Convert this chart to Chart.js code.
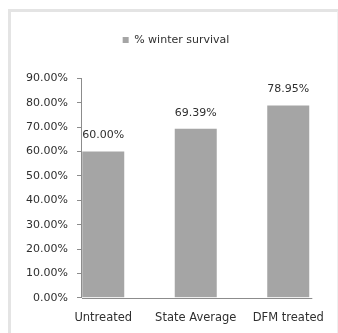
<!DOCTYPE html>
<html>
<head>
<meta charset="utf-8">
<script src="https://cdn.jsdelivr.net/npm/chart.js@4/dist/chart.umd.min.js"></script>
<style>
  html, body { margin: 0; padding: 0; background: #fff; overflow: hidden; }
  #wrap { position: relative; width: 338px; height: 333px; }
  #frame {
    position: absolute; left: 8px; top: 9px; width: 331px; height: 360px;
    border: 3px solid #e4e4e4; border-right: 2px solid #efefef; box-sizing: border-box;
  }
  canvas { position: absolute; left: 0; top: 0; }
</style>
</head>
<body>
<div id="wrap">
  <div id="frame"></div>
  <canvas id="survivalChart" width="338" height="333"></canvas>
</div>
<script>
// categories and winter survival rates (percent)
const groups = ['Untreated', 'State Average', 'DFM treated'];
const survival = [60.00, 69.39, 78.95];
const seriesName = '% winter survival';
const yTicks = [0, 10, 20, 30, 40, 50, 60, 70, 80, 90];

const textColor = '#2f2f2f';
const axisColor = '#8c8c8c';
const fontFamily = '"DejaVu Sans", sans-serif';

// value labels above each bar
const valueLabels = {
    id: 'valueLabels',
    afterDatasetsDraw(chart) {
        const ctx = chart.ctx;
        const meta = chart.getDatasetMeta(0);
        ctx.save();
        ctx.font = '11px ' + fontFamily;
        ctx.fillStyle = textColor;
        ctx.textAlign = 'center';
        ctx.textBaseline = 'middle';
        meta.data.forEach((bar, i) => {
            const v = chart.data.datasets[0].data[i];
            ctx.fillText(v.toFixed(2) + '%', bar.x, bar.y - 16);
        });
        ctx.restore();
    }
};

// horizontal axis line starting at the vertical axis
const baseLine = {
    id: 'baseLine',
    afterDatasetsDraw(chart) {
        const x = chart.scales.x;
        const y = chart.scales.y;
        const yPos = Math.round(y.getPixelForValue(0)) + 0.5;
        const ctx = chart.ctx;
        ctx.save();
        ctx.strokeStyle = axisColor;
        ctx.lineWidth = 1;
        ctx.beginPath();
        ctx.moveTo(x.getPixelForValue(-0.23), yPos);
        ctx.lineTo(x.getPixelForValue(2.26), yPos);
        ctx.stroke();
        ctx.restore();
    }
};

const setTicks = scale => { scale.ticks = yTicks.map(v => ({ value: v })); };

new Chart(document.getElementById('survivalChart'), {
    type: 'bar',
    data: {
        labels: groups,
        datasets: [{
            label: seriesName,
            data: survival,
            yAxisID: 'y',
            backgroundColor: '#a5a5a5',
            borderWidth: 0,
            categoryPercentage: 1,
            barPercentage: 0.454
        }]
    },
    options: {
        responsive: false,
        animation: false,
        layout: { padding: { left: 17.5, right: 3.5, top: 24.5, bottom: 8.2 } },
        plugins: {
            legend: {
                weight: 3000,
                labels: {
                    boxWidth: 6,
                    boxHeight: 6,
                    padding: 10,
                    color: textColor,
                    font: { family: fontFamily, size: 11 }
                }
            },
            // empty title used as spacing under the legend
            title: {
                display: true,
                text: '',
                padding: 0,
                font: { size: 23, lineHeight: 1 }
            },
            tooltip: { enabled: false }
        },
        scales: {
            gutter: {
                axis: 'y',
                position: 'left',
                display: true,
                grid: { display: false, drawTicks: false },
                border: { display: false },
                ticks: { display: false },
                afterFit(scale) { scale.width = 39.5; }
            },
            x: {
                grid: { display: false, drawTicks: false },
                border: { display: false },
                ticks: {
                    padding: 13,
                    color: textColor,
                    font: { family: fontFamily, size: 11.5 }
                },
                afterFit(scale) { scale.height = 27; }
            },
            // value axis: line and tick marks
            y: {
                position: { x: -0.23 },
                min: 0,
                max: 90,
                afterBuildTicks: setTicks,
                grid: { drawOnChartArea: false, tickLength: 4, color: axisColor },
                border: { color: axisColor },
                ticks: { display: false }
            },
            // value axis labels, set left of the line
            yLabels: {
                axis: 'y',
                position: { x: -0.381 },
                min: 0,
                max: 90,
                afterBuildTicks: setTicks,
                grid: { display: false },
                border: { display: false },
                ticks: {
                    color: textColor,
                    font: { family: fontFamily, size: 11 },
                    callback: v => v.toFixed(2) + '%'
                }
            }
        }
    },
    plugins: [valueLabels, baseLine]
});
</script>
</body>
</html>
